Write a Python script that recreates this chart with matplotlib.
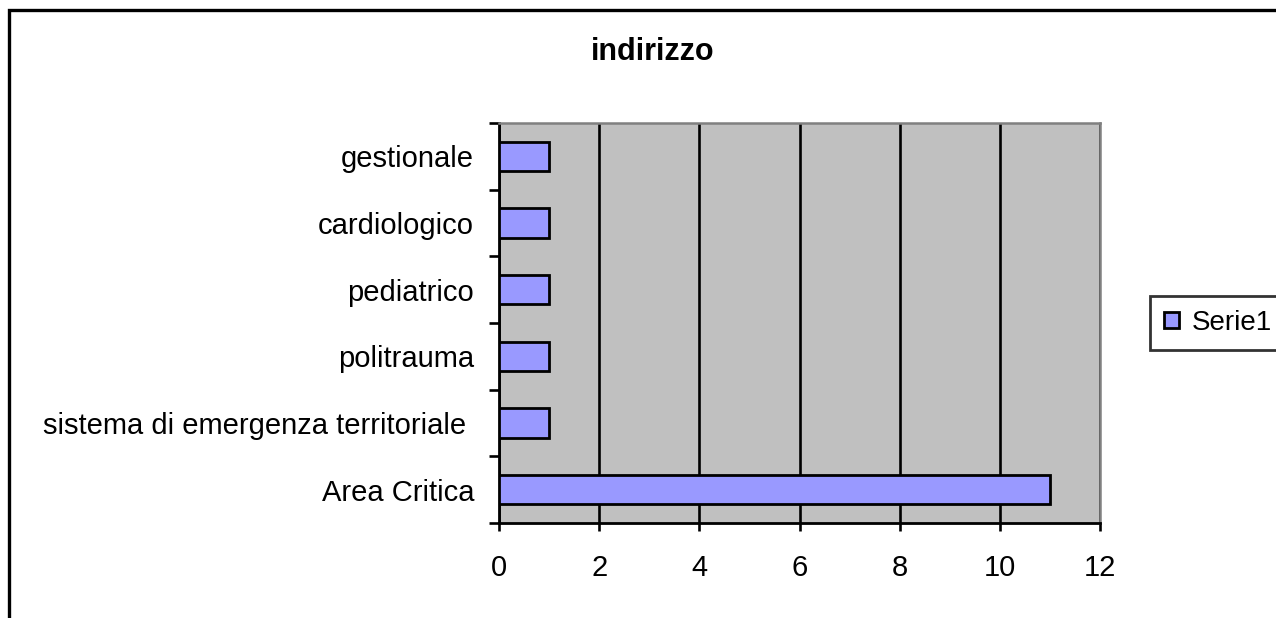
import numpy as np
import matplotlib.pyplot as plt
from matplotlib.patches import Rectangle

plt.rcParams['font.family'] = ['Liberation Sans', 'DejaVu Sans']

categorie = ['Area Critica', 'sistema di emergenza territoriale ', 'politrauma',
             'pediatrico', 'cardiologico', 'gestionale']
valori = [11, 1, 1, 1, 1, 1]
serie = 'Serie1'
xticks = [0, 2, 4, 6, 8, 10, 12]

fig = plt.figure(figsize=(12.76, 6.18), dpi=100)
ax = fig.add_axes([499/1276, 95/618, 601/1276, 400/618])
ax.set_facecolor('#C0C0C0')

y = np.arange(len(categorie))
ax.barh(y, valori, height=0.44, color='#9999FF', edgecolor='black',
        linewidth=2.0, label=serie, zorder=3)

ax.set_xlim(0, 12)
ax.set_ylim(-0.5, len(categorie) - 0.5)
ax.set_xticks(xticks)
ax.set_xticklabels([str(t) for t in xticks], fontsize=21)
ax.xaxis.grid(True, color='black', linewidth=1.9, zorder=1)
ax.set_axisbelow(True)

ax.set_yticks(y)
ax.set_yticklabels(categorie, fontsize=21)
ax.set_yticks(np.arange(-0.5, len(categorie)), minor=True)
ax.tick_params(axis='y', which='major', length=0, pad=18)
ax.tick_params(axis='y', which='minor', length=7.5, width=1.9, direction='out')
ax.tick_params(axis='x', which='major', length=6, width=1.9, direction='out', pad=16)

for s in ['left', 'bottom']:
    ax.spines[s].set_linewidth(2.0)
    ax.spines[s].set_color('black')
for s in ['top', 'right']:
    ax.spines[s].set_linewidth(1.8)
    ax.spines[s].set_color('#808080')

fig.text(653/1276, 1 - 52/618, 'indirizzo', fontsize=22, fontweight='bold',
         ha='center', va='center')

leg = ax.legend(loc='upper left', bbox_to_anchor=(1150/1276, 1 - 296/618),
                bbox_transform=fig.transFigure, fontsize=20, frameon=True,
                fancybox=False, edgecolor='black', borderpad=0.5,
                handlelength=0.55, handleheight=0.5, handletextpad=0.45,
                borderaxespad=0)
leg.get_frame().set_linewidth(2.0)
for h in leg.legend_handles:
    h.set_linewidth(2.0)

# cornice esterna del grafico
fig.patches.append(Rectangle((9/1276, -0.1), 1.2, 1 - 10/618 + 0.1,
                             transform=fig.transFigure, fill=False,
                             edgecolor='black', linewidth=2.4))

fig.savefig('out.png', dpi=100)
